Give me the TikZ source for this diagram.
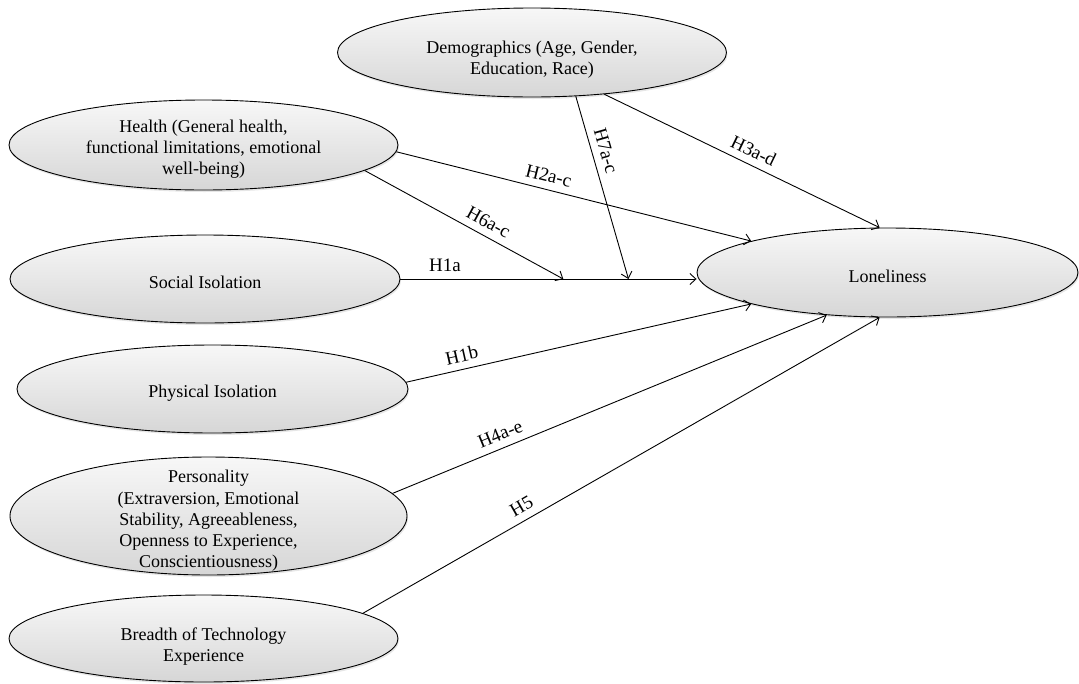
\documentclass[tikz,border=0pt]{standalone}
\usepackage{fontspec}
\setmainfont{Liberation Serif}
\usepackage{tikz}
\usetikzlibrary{arrows.meta,shapes.geometric,shadows}

\begin{document}
\begin{tikzpicture}[x=1pt, y=-1pt,
  blob/.style={ellipse, draw, line width=0.9pt, top color=gray!6, bottom color=gray!32, inner sep=0pt,
    drop shadow={opacity=0.2, shadow xshift=1pt, shadow yshift=-2pt}},
  txt/.style={align=center, font=\fontsize{18}{21.3}\selectfont},
  arr/.style={-{Straight Barb[length=6pt,width=11pt]}, line width=0.9pt},
  hyp/.style={font=\fontsize{19}{22}\selectfont, sloped, inner sep=2pt}
]
\useasboundingbox (0,0) rectangle (1079,683);

\node[blob, minimum width=389pt, minimum height=89pt] (demo) at (532,52.5) {};
\node[txt] (demotxt) at ([yshift=-7pt]demo.center) {Demographics (Age, Gender,\\Education, Race)};
\node[blob, minimum width=389pt, minimum height=90pt] (health) at (203.5,145) {};
\node[txt] (healthtxt) at ([yshift=-4pt]health.center) {Health (General health,\\functional limitations, emotional\\well-being)};
\node[blob, minimum width=390pt, minimum height=88pt] (social) at (205,279) {};
\node[txt] (socialtxt) at ([yshift=-3pt]social.center) {Social Isolation};
\node[blob, minimum width=391pt, minimum height=88pt] (physical) at (212.5,389) {};
\node[txt] (physicaltxt) at ([yshift=-4pt]physical.center) {Physical Isolation};
\node[blob, minimum width=397pt, minimum height=118pt] (pers) at (208.5,516) {};
\node[txt] (perstxt) at ([yshift=-5pt]pers.center) {Personality\\(Extraversion, Emotional\\Stability, Agreeableness,\\Openness to Experience,\\Conscientiousness)};
\node[blob, minimum width=389pt, minimum height=87pt] (breadth) at (203.5,638.5) {};
\node[txt] (breadthtxt) at ([yshift=-8pt]breadth.center) {Breadth of Technology\\Experience};
\node[blob, minimum width=381pt, minimum height=89pt] (lonely) at (887.5,272.5) {};
\node[txt] (lonelytxt) at ([yshift=-4pt]lonely.center) {Loneliness};

% moderators end on the H1a path
\path (social.east) -- (social.east -| lonely.west) coordinate[pos=0.55] (j6) coordinate[pos=0.77] (j7);

\draw[arr] (social.east) -- (social.east -| lonely.west) node[hyp, pos=0.15, above=5pt]{H1a};
\draw[arr] (health.-9) -- (j6) node[hyp, pos=0.59, above=5pt]{H6a-c};
\draw[arr] (demo.-45) -- (j7) node[hyp, pos=0.32, above=5pt]{H7a-c};
\draw[arr] (health.-2) -- (lonely.167) node[hyp, pos=0.42, above=5pt]{H2a-c};
\draw[arr] (demo.-30) -- (lonely.100) node[hyp, pos=0.52, above=5pt]{H3a-d};
\draw[arr] (physical.2) -- (lonely.193) node[hyp, pos=0.17, above=5pt]{H1b};
\draw[arr] (pers.7) -- (lonely.215) node[hyp, pos=0.26, above=5pt]{H4a-e};
\draw[arr] (breadth.9) -- (lonely.260) node[hyp, pos=0.32, above=5pt]{H5};
\end{tikzpicture}
\end{document}
